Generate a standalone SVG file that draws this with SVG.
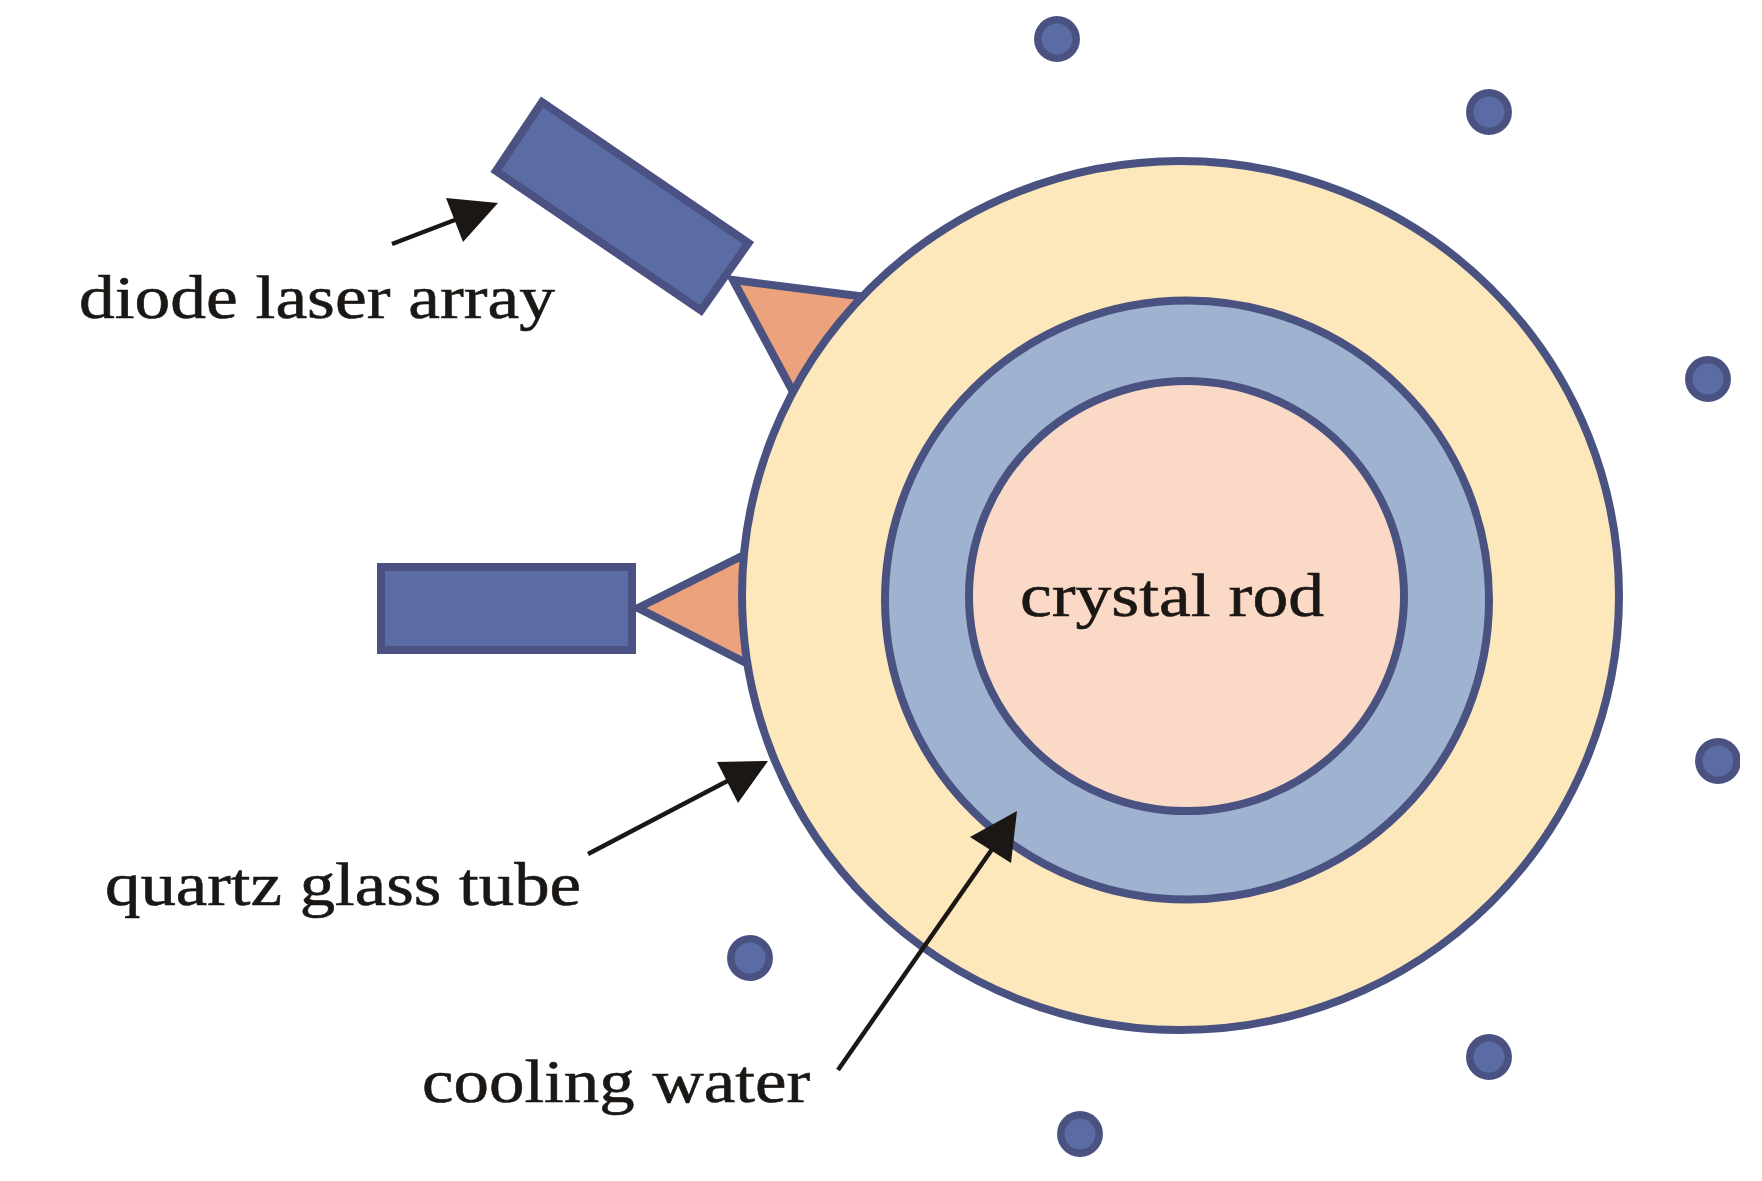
<svg xmlns="http://www.w3.org/2000/svg" width="1762" height="1181" viewBox="0 0 1762 1181">
<style>
.s{stroke:#4a5282;stroke-width:8}
.b{fill:#5b6ba3;stroke:#4b5283;stroke-width:8}
.t{fill:#eca27c;stroke:#4a5282;stroke-width:8}
.d{fill:#5b6ba3;stroke:#4a5282;stroke-width:7.5}
.l{font-family:"Liberation Serif","Times New Roman",serif;font-size:62px;fill:#1a1714;stroke:#1a1714;stroke-width:.6}
.a{stroke:#1a1714;stroke-width:4.5;fill:none}
.h{fill:#1a1714}
</style>
<rect width="1762" height="1181" fill="#fff"/>
<g id="pump-top"><polygon class="t" points="733,280 866,297 799,403"/><polygon class="b" points="542,102 748.5,243 701,310.5 496,171"/></g>
<g id="pump-left"><polygon class="t" points="638,608 760,547 760,670"/><rect class="b" x="381" y="567" width="251" height="83"/></g>
<g id="quartz-tube"><ellipse cx="1180.5" cy="595.5" rx="438.5" ry="434.5" fill="#fde8bc" class="s"/></g>
<g id="cooling-water"><ellipse cx="1187" cy="600" rx="302" ry="299.5" fill="#9fb3d1" class="s"/></g>
<g id="crystal-rod"><ellipse cx="1186.5" cy="596" rx="217.5" ry="215" fill="#fad9c7" class="s"/><text class="l" x="1020" y="616" textLength="304" lengthAdjust="spacingAndGlyphs">crystal rod</text></g>
<g id="dots">
<circle class="d" cx="1057" cy="39" r="19.2"/>
<circle class="d" cx="1489" cy="112" r="19.2"/>
<circle class="d" cx="1708" cy="379" r="19.2"/>
<circle class="d" cx="750" cy="958" r="19.2"/>
<circle class="d" cx="1489" cy="1057" r="19.2"/>
<circle class="d" cx="1080" cy="1134" r="19.2"/>
<circle class="d" cx="1718" cy="761" r="19.2"/>
<rect x="1740" y="730" width="22" height="62" fill="#fff"/>
</g>
<g id="connectors">
<line class="a" x1="392" y1="244" x2="460" y2="218"/><polygon class="h" points="446,198 498,203 463,242"/>
<line class="a" x1="588" y1="854" x2="735" y2="777"/><polygon class="h" points="717,762 768,761 738,803"/>
<line class="a" x1="838" y1="1070" x2="995" y2="845"/><polygon class="h" points="1017,811 970,837 1011,863"/>
</g>
<g id="labels">
<text class="l" x="79" y="318" textLength="476" lengthAdjust="spacingAndGlyphs">diode laser array</text>
<text class="l" x="105" y="905" textLength="476" lengthAdjust="spacingAndGlyphs">quartz glass tube</text>
<text class="l" x="422" y="1102" textLength="388" lengthAdjust="spacingAndGlyphs">cooling water</text>
</g>
</svg>
